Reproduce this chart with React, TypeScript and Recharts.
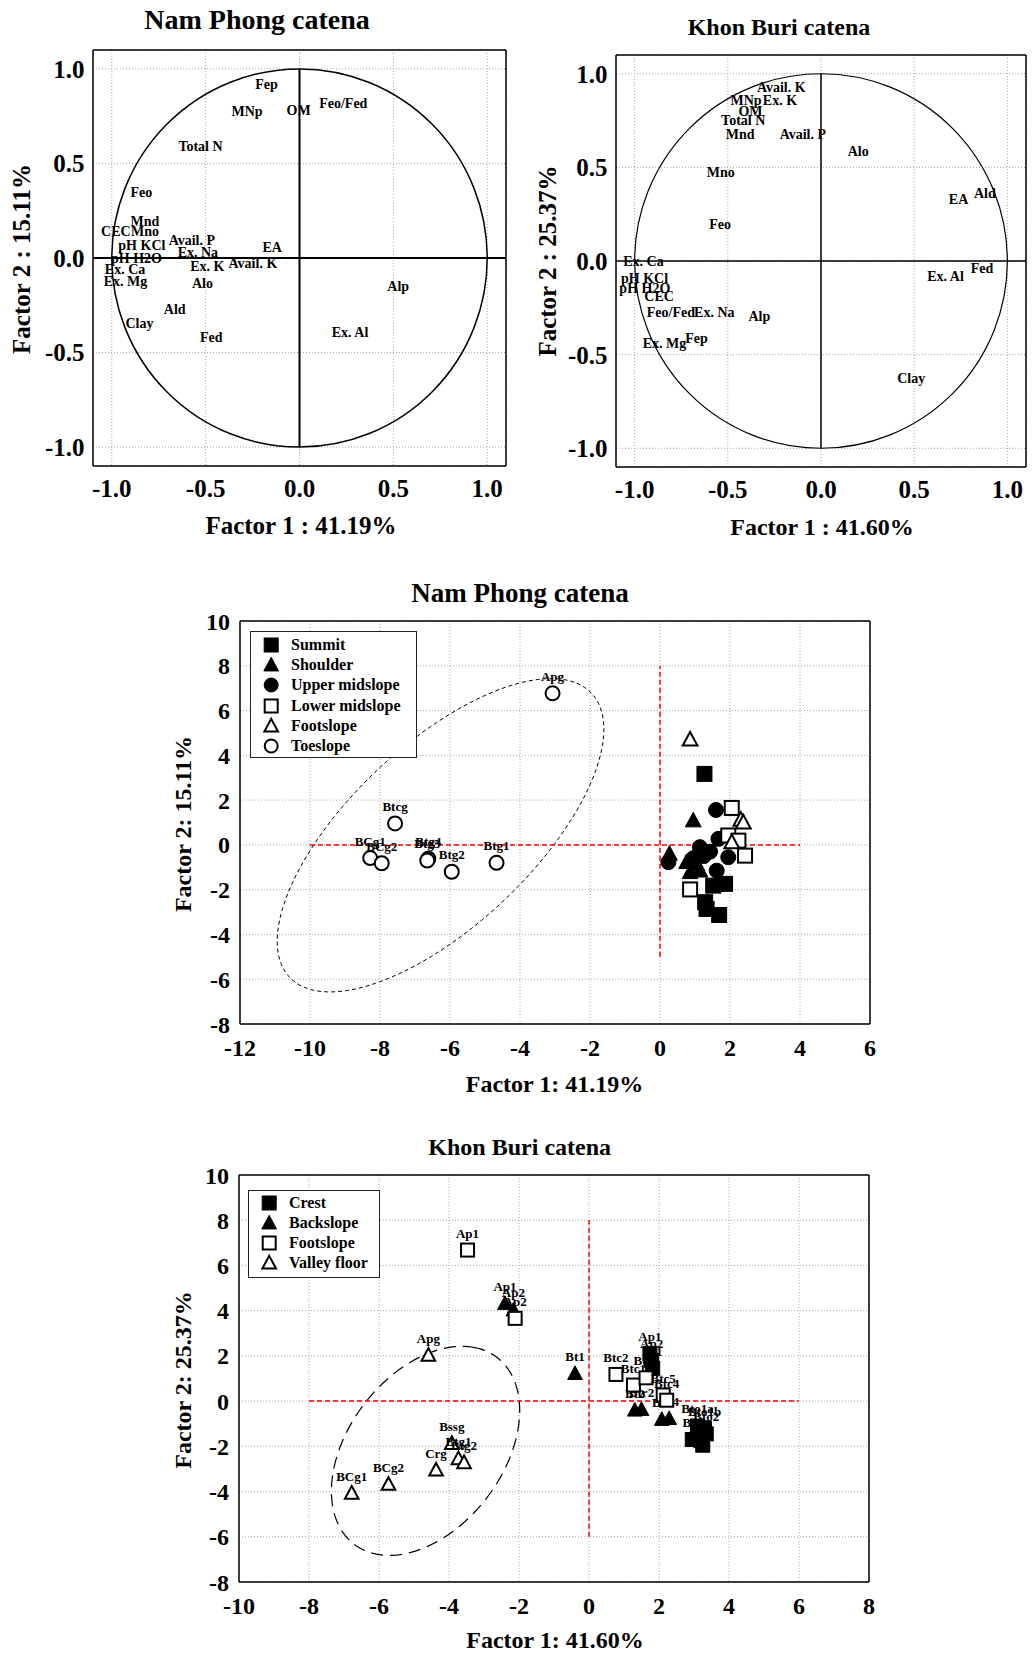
import React from 'react';
import {
  ScatterChart,
  Scatter,
  XAxis,
  YAxis,
  CartesianGrid,
  ReferenceLine,
  ReferenceArea,
  Legend,
} from 'recharts';

const SERIF = '"Liberation Serif", "Times New Roman", Times, serif';

// ---- variable loadings (factor 1 / factor 2) ----
const npVarNames = ['Fep', 'MNp', 'OM', 'Feo/Fed', 'Total N', 'Feo', 'Mnd', 'CEC', 'Mno', 'pH KCl', 'Avail. P', 'Ex. Na', 'EA', 'pH H2O', 'Ex. K', 'Avail. K', 'Ex. Ca', 'Ex. Mg', 'Alo', 'Alp', 'Ald', 'Clay', 'Fed', 'Ex. Al'];
const npVarF1 = [-0.236, -0.362, -0.069, 0.105, -0.645, -0.9, -0.9, -1.057, -0.897, -0.965, -0.697, -0.649, -0.197, -1.004, -0.582, -0.378, -1.037, -1.043, -0.573, 0.468, -0.723, -0.927, -0.53, 0.172];
const npVarF2 = [0.915, 0.775, 0.782, 0.815, 0.588, 0.347, 0.194, 0.14, 0.14, 0.065, 0.093, 0.029, 0.056, -0.005, -0.047, -0.029, -0.06, -0.125, -0.134, -0.152, -0.27, -0.347, -0.423, -0.396];

const kbVarNames = ['Avail. K', 'MNp', 'Ex. K', 'OM', 'Total N', 'Mnd', 'Avail. P', 'Alo', 'Mno', 'EA', 'Ald', 'Feo', 'Ex. Ca', 'Fed', 'Ex. Al', 'pH KCl', 'pH H2O', 'CEC', 'Feo/Fed', 'Ex. Na', 'Alp', 'Ex. Mg', 'Fep', 'Clay'];
const kbVarF1 = [-0.344, -0.486, -0.312, -0.443, -0.536, -0.511, -0.222, 0.143, -0.613, 0.686, 0.821, -0.6, -1.061, 0.803, 0.57, -1.073, -1.082, -0.948, -0.935, -0.681, -0.389, -0.957, -0.729, 0.409];
const kbVarF2 = [0.928, 0.855, 0.855, 0.8, 0.75, 0.675, 0.675, 0.583, 0.473, 0.326, 0.359, 0.194, -0.003, -0.039, -0.082, -0.095, -0.146, -0.192, -0.275, -0.275, -0.297, -0.44, -0.412, -0.627];

const loadTicks = [-1, -0.5, 0, 0.5, 1];
const loadMinor = [-1, -0.9, -0.8, -0.7, -0.6, -0.5, -0.4, -0.3, -0.2, -0.1, 0, 0.1, 0.2, 0.3, 0.4, 0.5, 0.6, 0.7, 0.8, 0.9, 1];

// ---- sample scores, Nam Phong ----
const npSummit = [[1.27, 3.17], [1.86, -1.74], [1.52, -1.82], [1.29, -2.56], [1.33, -2.86], [1.69, -3.13]];
const npShoulder = [[0.95, 1.09], [0.27, -0.4], [0.76, -0.77], [1.14, -1.15], [0.86, -1.22], [1.05, -0.85]];
const npUpper = [[1.6, 1.56], [1.67, 0.27], [1.14, -0.1], [1.43, -0.3], [1.95, -0.55], [0.24, -0.77], [0.95, -0.6], [1.62, -1.15], [1.25, -0.5]];
const npLower = [[2.05, 1.65], [1.95, 0.42], [2.24, 0.19], [2.43, -0.48], [0.86, -1.99]];
const npFoot = [[0.86, 4.7], [2.31, 1.12], [2.38, 1.0], [2.05, 0.12]];
const npToe = [[-3.07, 6.77], [-7.57, 0.96], [-8.28, -0.59], [-7.95, -0.82], [-6.62, -0.62], [-6.65, -0.7], [-5.95, -1.2], [-4.67, -0.8]];
const npToeLabels = ['Apg', 'Btcg', 'BCg1', 'BCg2', 'Btg4', 'Btg3', 'Btg2', 'Btg1'];

const npXTicks = [-12, -10, -8, -6, -4, -2, 0, 2, 4, 6];
const npXMinor = [-11, -10, -9, -8, -7, -6, -5, -4, -3, -2, -1, 0, 1, 2, 3, 4, 5];

// ---- sample scores, Khon Buri ----
const kbCrest = [[1.74, 2.11], [1.79, 1.8], [1.82, 1.45], [3.1, -1.1], [3.3, -1.2], [3.35, -1.45], [2.95, -1.7], [3.2, -1.75], [3.25, -1.95]];
const kbCrestLabels = ['Ap1', 'Ap2', 'Bt1', 'Bto1a', 'Bto1b', 'Bto2', 'Bt2', 'Bt3', 'Bt4'];
const kbBack = [[-2.4, 4.32], [-2.16, 4.03], [-0.4, 1.22], [1.31, -0.4], [1.5, -0.37], [2.08, -0.81], [2.29, -0.77]];
const kbBackLabels = ['Ap1', 'Ap2', 'Bt1', 'Bt2', 'Btr2', 'Bt3', 'Bt4'];
const kbFoot = [[-3.47, 6.68], [-2.11, 3.66], [0.77, 1.18], [1.27, 0.71], [1.63, 1.03], [2.12, 0.27], [2.22, 0.04]];
const kbFootLabels = ['Ap1', 'Ap2', 'Btc2', 'Btc1', 'Btc3', 'Btc5', 'Btc4'];
const kbValley = [[-4.59, 2.03], [-3.92, -1.87], [-3.73, -2.55], [-3.57, -2.72], [-4.37, -3.05], [-5.73, -3.68], [-6.78, -4.07]];
const kbValleyLabels = ['Apg', 'Bssg', 'Btg1', 'Btg2', 'Crg', 'BCg2', 'BCg1'];

const kbXTicks = [-10, -8, -6, -4, -2, 0, 2, 4, 6, 8];
const kbXMinor = [-9, -8, -7, -6, -5, -4, -3, -2, -1, 0, 1, 2, 3, 4, 5, 6, 7];

const scoreYTicks = [-8, -6, -4, -2, 0, 2, 4, 6, 8, 10];
const scoreYMinor = [-7, -6, -5, -4, -3, -2, -1, 0, 1, 2, 3, 4, 5, 6, 7, 8, 9];

// group ellipses: centre, semi-axes and tilt (degrees) in factor units
const npEllipse = { cx: -6.27, cy: 0.43, a: 7.83, b: 3.07, angle: 60.8 };
const kbEllipse = { cx: -4.67, cy: -2.2, a: 4.78, b: 2.4, angle: 72.9 };

type Kind = 'square' | 'triangle' | 'circle';

const Marker = ({ kind, filled, cx, cy, size }: { kind: Kind; filled: boolean; cx: number; cy: number; size: number }) => {
  const fill = filled ? '#000' : '#fff';
  const sw = filled ? 1 : 2;
  const h = size / 2 - (filled ? 0.5 : 1);
  if (kind === 'square') {
    return <rect x={cx - h} y={cy - h} width={2 * h} height={2 * h} fill={fill} stroke="#000" strokeWidth={sw} />;
  }
  if (kind === 'circle') {
    return <circle cx={cx} cy={cy} r={h} fill={fill} stroke="#000" strokeWidth={sw} />;
  }
  const pts = `${cx},${cy - h * 1.1} ${cx + h * 1.05},${cy + h * 0.85} ${cx - h * 1.05},${cy + h * 0.85}`;
  return <polygon points={pts} fill={fill} stroke="#000" strokeWidth={sw} strokeLinejoin="miter" />;
};

const toRows = (pts: number[][], labels?: string[]) =>
  pts.map(([x, y], i) => ({ x, y, label: labels ? labels[i] : '' }));

const npGroups = [
  { name: 'Summit', kind: 'square', filled: true, rows: toRows(npSummit) },
  { name: 'Shoulder', kind: 'triangle', filled: true, rows: toRows(npShoulder) },
  { name: 'Upper midslope', kind: 'circle', filled: true, rows: toRows(npUpper) },
  { name: 'Lower midslope', kind: 'square', filled: false, rows: toRows(npLower) },
  { name: 'Footslope', kind: 'triangle', filled: false, rows: toRows(npFoot) },
  { name: 'Toeslope', kind: 'circle', filled: false, rows: toRows(npToe, npToeLabels) },
];

const kbGroups = [
  { name: 'Crest', kind: 'square', filled: true, rows: toRows(kbCrest, kbCrestLabels) },
  { name: 'Backslope', kind: 'triangle', filled: true, rows: toRows(kbBack, kbBackLabels) },
  { name: 'Footslope', kind: 'square', filled: false, rows: toRows(kbFoot, kbFootLabels) },
  { name: 'Valley floor', kind: 'triangle', filled: false, rows: toRows(kbValley, kbValleyLabels) },
];

const tickFont = (fs: number) => ({ fill: '#000', fontSize: fs, fontWeight: 700, fontFamily: SERIF });

// bottom/left axes carry labels; mirrored top/right axes close the frame with small inward ticks
function frameAxes(o: any) {
  const line = { stroke: '#000', strokeWidth: o.lw };
  return [
    <XAxis key="xb" type="number" dataKey="x" domain={o.xDomain} ticks={o.xTicks} interval={0} allowDataOverflow
      tickFormatter={o.fmt} tickLine={false} axisLine={line} tick={tickFont(o.fs)} tickSize={6} tickMargin={o.xMargin} height={40} />,
    <YAxis key="yl" type="number" dataKey="y" domain={o.yDomain} ticks={o.yTicks} interval={0} allowDataOverflow
      tickFormatter={o.fmt} tickLine={false} axisLine={line} tick={tickFont(o.fs)} tickSize={6} tickMargin={o.yMargin} width={70} />,
    <XAxis key="xt" xAxisId="t" orientation="top" mirror type="number" domain={o.xDomain} ticks={o.xMinor} interval={0} allowDataOverflow
      tick={false} tickLine={{ stroke: '#000' }} tickSize={4} axisLine={line} />,
    <YAxis key="yr" yAxisId="r" orientation="right" mirror type="number" domain={o.yDomain} ticks={o.yMinor} interval={0} allowDataOverflow
      tick={false} tickLine={{ stroke: '#000' }} tickSize={4} axisLine={line} />,
  ];
}

const Caption = ({ x, y, size, rotate, children }: any) => (
  <div
    style={{
      position: 'absolute',
      left: x,
      top: y,
      transform: `translate(-50%, -50%)${rotate ? ' rotate(-90deg)' : ''}`,
      fontFamily: SERIF,
      fontWeight: 700,
      fontSize: size,
      lineHeight: 1,
      whiteSpace: 'nowrap',
      color: '#000',
    }}
  >
    {children}
  </div>
);

function LoadingChart({ names, f1, f2, width, height, margin, lw, axisW }: any) {
  const data = names.map((name: string, i: number) => ({ name, x: f1[i], y: f2[i] }));
  return (
    <ScatterChart width={width} height={height} margin={margin}>
      <CartesianGrid stroke="#a8a8a8" strokeDasharray="1 2" />
      {frameAxes({ xDomain: [-1.1, 1.1], yDomain: [-1.1, 1.1], xTicks: loadTicks, yTicks: loadTicks, xMinor: loadMinor, yMinor: loadMinor, fs: 25, lw: 1.5, xMargin: 7.5, yMargin: 2.5, fmt: (v: number) => v.toFixed(1) })}
      <ReferenceArea
        x1={-1} x2={1} y1={-1} y2={1} ifOverflow="visible"
        shape={(p: any) => (
          <ellipse cx={p.x + p.width / 2} cy={p.y + p.height / 2} rx={p.width / 2} ry={p.height / 2} fill="none" stroke="#000" strokeWidth={lw} />
        )}
      />
      <ReferenceLine segment={[{ x: 0, y: -1 }, { x: 0, y: 1 }]} stroke="#000" strokeWidth={axisW} />
      <ReferenceLine y={0} stroke="#000" strokeWidth={axisW} />
      <Scatter
        data={data}
        isAnimationActive={false}
        shape={(p: any) => (
          <text x={p.cx} y={p.cy} dominantBaseline="central" fontFamily={SERIF} fontWeight={700} fontSize={14} fill="#000">
            {p.payload.name}
          </text>
        )}
      />
    </ScatterChart>
  );
}

// dashed group ellipse drawn inside its bounding box, scaled by the box's pixel size
const ellipseBox = (e: any) => {
  const t = (e.angle * Math.PI) / 180;
  const hw = Math.sqrt(e.a * e.a * Math.cos(t) ** 2 + e.b * e.b * Math.sin(t) ** 2);
  const hh = Math.sqrt(e.a * e.a * Math.sin(t) ** 2 + e.b * e.b * Math.cos(t) ** 2);
  return { x1: e.cx - hw, x2: e.cx + hw, y1: e.cy - hh, y2: e.cy + hh, hw, hh };
};

const ellipseShape = (e: any, dash: string, sw: number) => (p: any) => {
  const box = ellipseBox(e);
  const kx = p.width / (2 * box.hw);
  const ky = p.height / (2 * box.hh);
  const ox = p.x + p.width / 2;
  const oy = p.y + p.height / 2;
  const t = (e.angle * Math.PI) / 180;
  let d = '';
  for (let i = 0; i <= 160; i++) {
    const s = (i / 160) * Math.PI * 2;
    const dx = e.a * Math.cos(t) * Math.cos(s) - e.b * Math.sin(t) * Math.sin(s);
    const dy = e.a * Math.sin(t) * Math.cos(s) + e.b * Math.cos(t) * Math.sin(s);
    d += `${i === 0 ? 'M' : 'L'}${(ox + dx * kx).toFixed(2)},${(oy - dy * ky).toFixed(2)}`;
  }
  return <path d={d} fill="none" stroke="#000" strokeWidth={sw} strokeDasharray={dash} />;
};

function ScoreLegend({ groups, size, width, height, pad }: any) {
  return (
    <div
      style={{
        width,
        height,
        boxSizing: 'border-box',
        border: '1.5px solid #222',
        background: '#fff',
        paddingTop: pad,
        fontFamily: SERIF,
        fontWeight: 700,
        fontSize: 16,
        color: '#000',
      }}
    >
      {groups.map((g: any) => (
        <div key={g.name} style={{ display: 'flex', alignItems: 'center', height: 20.3 }}>
          <svg width={40} height={20} style={{ flex: 'none' }}>
            <Marker kind={g.kind} filled={g.filled} cx={20.2} cy={10} size={size} />
          </svg>
          <span style={{ lineHeight: '20px', whiteSpace: 'nowrap' }}>{g.name}</span>
        </div>
      ))}
    </div>
  );
}

function ScoreChart({ groups, width, height, margin, xDomain, xTicks, xMinor, hLine, vLine, ellipse, dash, dashW, size, legend }: any) {
  const box = ellipseBox(ellipse);
  return (
    <ScatterChart width={width} height={height} margin={margin}>
      <CartesianGrid stroke="#a8a8a8" strokeDasharray="1 2" />
      {frameAxes({ xDomain, yDomain: [-8, 10], xTicks, yTicks: scoreYTicks, xMinor, yMinor: scoreYMinor, fs: 24, lw: 1.5, xMargin: 8.7, yMargin: 4, fmt: (v: number) => String(v) })}
      <ReferenceLine segment={[{ x: hLine[0], y: 0 }, { x: hLine[1], y: 0 }]} stroke="#ff0000" strokeWidth={1.5} strokeDasharray="5 3" />
      <ReferenceLine segment={[{ x: 0, y: vLine[0] }, { x: 0, y: vLine[1] }]} stroke="#ff0000" strokeWidth={1.5} strokeDasharray="5 3" />
      <ReferenceArea x1={box.x1} x2={box.x2} y1={box.y1} y2={box.y2} ifOverflow="visible" shape={ellipseShape(ellipse, dash, dashW)} />
      {groups.map((g: any) => (
        <Scatter
          key={g.name}
          name={g.name}
          data={g.rows}
          isAnimationActive={false}
          shape={(p: any) => (
            <g>
              <Marker kind={g.kind} filled={g.filled} cx={p.cx} cy={p.cy} size={size} />
              {p.payload.label ? (
                <text x={p.cx} y={p.cy - 12.5} textAnchor="middle" fontFamily={SERIF} fontWeight={700} fontSize={13} fill="#000">
                  {p.payload.label}
                </text>
              ) : null}
            </g>
          )}
        />
      ))}
      <Legend
        layout="vertical"
        align="center"
        verticalAlign="middle"
        wrapperStyle={{ left: legend.left, top: legend.top, width: legend.width, height: legend.height }}
        content={() => <ScoreLegend groups={groups} size={15} width={legend.width} height={legend.height} pad={legend.pad} />}
      />
    </ScatterChart>
  );
}

export default function App() {
  return (
    <div style={{ position: 'absolute', left: 0, top: 0, width: 1033, height: 1657, background: '#fff', overflow: 'hidden' }}>
      <div style={{ position: 'absolute', left: 0, top: 0 }}>
        <LoadingChart names={npVarNames} f1={npVarF1} f2={npVarF2} width={520} height={540}
          margin={{ top: 50, right: 14, bottom: 34, left: 23 }} lw={1.5} axisW={2} />
      </div>
      <div style={{ position: 'absolute', left: 520, top: 0 }}>
        <LoadingChart names={kbVarNames} f1={kbVarF1} f2={kbVarF2} width={513} height={540}
          margin={{ top: 55, right: 7, bottom: 33, left: 26 }} lw={1.2} axisW={1.5} />
      </div>
      <div style={{ position: 'absolute', left: 0, top: 560 }}>
        <ScoreChart groups={npGroups} width={1033} height={540} margin={{ top: 61, right: 163, bottom: 36, left: 170 }}
          xDomain={[-12, 6]} xTicks={npXTicks} xMinor={npXMinor} hLine={[-10, 4]} vLine={[-5, 8]}
          ellipse={npEllipse} dash="4 3" dashW={1} size={16}
          legend={{ left: 250, top: 70.5, width: 167, height: 127, pad: 3 }} />
      </div>
      <div style={{ position: 'absolute', left: 0, top: 1115 }}>
        <ScoreChart groups={kbGroups} width={1033} height={542} margin={{ top: 60, right: 164, bottom: 35, left: 169 }}
          xDomain={[-10, 8]} xTicks={kbXTicks} xMinor={kbXMinor} hLine={[-8, 6]} vLine={[-6, 8]}
          ellipse={kbEllipse} dash="12 7" dashW={1.2} size={15}
          legend={{ left: 248, top: 75, width: 132, height: 88, pad: 1.4 }} />
      </div>

      <Caption x={257} y={20} size={28}>Nam Phong catena</Caption>
      <Caption x={301} y={525} size={25}>Factor 1 : 41.19%</Caption>
      <Caption x={21} y={259} size={25} rotate>Factor 2 : 15.11%</Caption>

      <Caption x={779} y={26.5} size={24}>Khon Buri catena</Caption>
      <Caption x={822} y={527} size={24}>Factor 1 : 41.60%</Caption>
      <Caption x={547} y={261} size={25} rotate>Factor 2 : 25.37%</Caption>

      <Caption x={520} y={592.5} size={27}>Nam Phong catena</Caption>
      <Caption x={554.5} y={1083.7} size={24}>Factor 1: 41.19%</Caption>
      <Caption x={182.7} y={824} size={24} rotate>Factor 2: 15.11%</Caption>

      <Caption x={519.7} y={1147} size={24}>Khon Buri catena</Caption>
      <Caption x={555} y={1640} size={24}>Factor 1: 41.60%</Caption>
      <Caption x={182.7} y={1380} size={24} rotate>Factor 2: 25.37%</Caption>
    </div>
  );
}
